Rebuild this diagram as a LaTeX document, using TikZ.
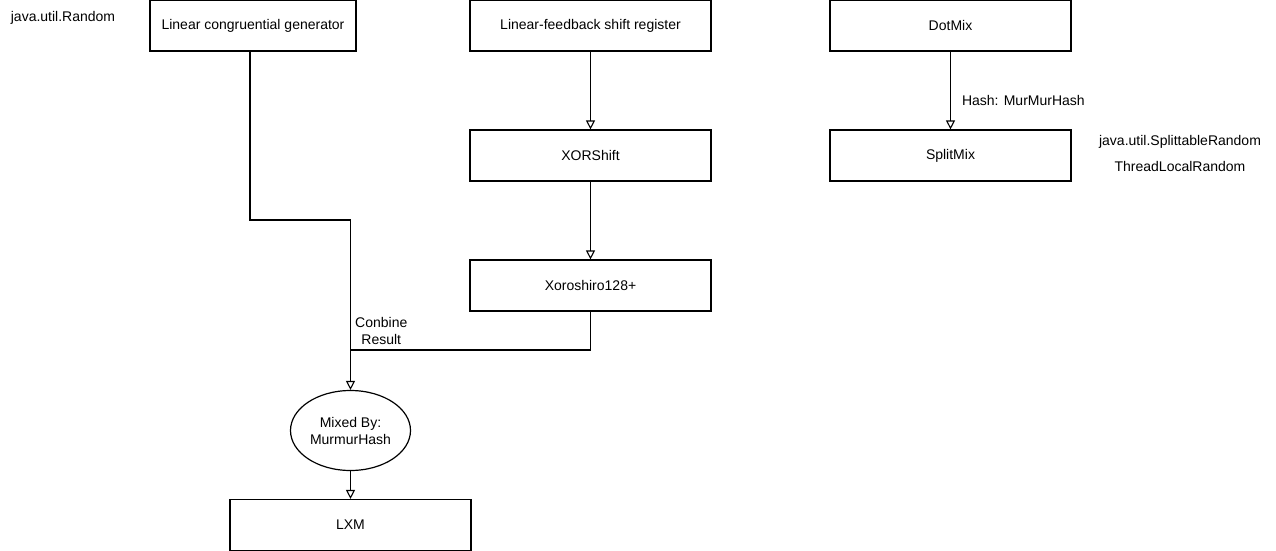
\documentclass[tikz,border=0pt]{standalone}
\usepackage{fontspec}
\setmainfont{Liberation Sans}
\usetikzlibrary{arrows.meta,shapes.geometric}
\begin{document}
\begin{tikzpicture}[x=1pt,y=-1pt,
  box/.style={draw=black,line width=1.2pt,minimum width=241pt,minimum height=51pt,inner sep=0pt,font=\fontsize{14}{16}\selectfont},
  ell/.style={ellipse,draw=black,line width=1.2pt,minimum width=120pt,minimum height=80pt,inner sep=0pt,align=center,font=\fontsize{14}{17}\selectfont},
  conn/.style={draw=black,line width=1.1pt},
  arr/.style={conn,-{Triangle[open,length=9pt,width=9pt]}},
  lbl/.style={font=\fontsize{14}{17}\selectfont,inner sep=0pt}]
\useasboundingbox (0,0) rectangle (1276,551);
\fill[white] (0,0) rectangle (1276,551);
\node[box,minimum width=206pt] (lcg) at (253,25.5) {Linear congruential generator};
\node[box] (lfsr) at (590.5,25.5) {Linear-feedback shift register};
\node[box] (dot) at (950.5,25.5) {DotMix};
\node[box] (xor) at (590.5,155.5) {XORShift};
\node[box] (split) at (950.5,155.5) {SplitMix};
\node[box] (xoro) at (590.5,285.5) {Xoroshiro128+};
\node[ell] (mix) at (350.5,430.5) {Mixed By:\\MurmurHash};
\node[box] (lxm) at (350.5,525) {LXM};
\node[lbl] (jr) at (63,18) {java.util.Random};
\node[lbl] (jsr) at (1180,142) {java.util.SplittableRandom};
\node[lbl] (tlr) at (1180,166) {ThreadLocalRandom};
\coordinate (c1) at (250,220);
\coordinate (c2) at (350.5,220);
\coordinate (j) at (350.5,350);
\draw[arr] (lcg.south -| c1) -- (c1) -- (c2) -- (mix.north);
\draw[conn] (xoro.south) -- (xoro.south |- j) -- (j);
\node[lbl,align=center,anchor=north west] (cr) at (355,317) {Conbine\\Result};
\draw[arr] (lfsr.south) -- (xor.north);
\draw[arr] (xor.south) -- (xoro.north);
\draw[arr] (dot.south) -- node[lbl,pos=0.63,anchor=west,xshift=11pt] (hash) {Hash: MurMurHash} (split.north);
\draw[arr] (mix.south) -- (lxm.north);
\end{tikzpicture}
\end{document}
